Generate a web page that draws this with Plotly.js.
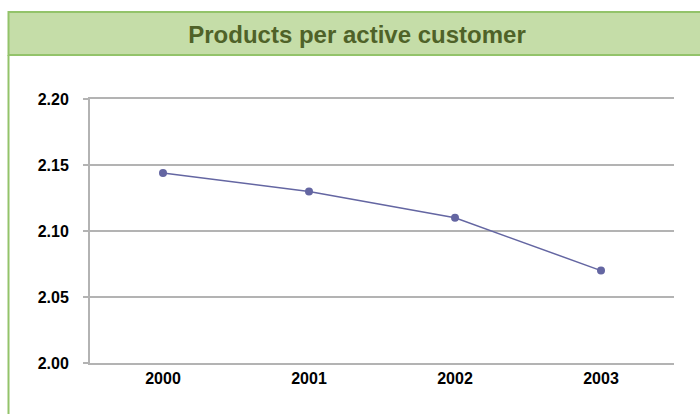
<!DOCTYPE html>
<html>
<head>
<meta charset="utf-8">
<script src="https://cdn.plot.ly/plotly-3.0.1.min.js"></script>
<style>
html,body{margin:0;padding:0;background:#fff;}
#chart{width:700px;height:414px;}
</style>
</head>
<body>
<div id="chart"></div>
<script>
const years = ["2000", "2001", "2002", "2003"];
const productsPerCustomer = [2.144, 2.130, 2.110, 2.070];
const yTicks = [2.00, 2.05, 2.10, 2.15, 2.20];
const yTickLabels = ["2.00", "2.05", "2.10", "2.15", "2.20"];
const chartTitle = "Products per active customer";

const trace = {
  x: years,
  y: productsPerCustomer,
  type: "scatter",
  mode: "lines+markers",
  line: {color: "#6466a2", width: 1.5},
  marker: {color: "#6466a2", size: 8},
  hoverinfo: "x+y"
};

const layout = {
  width: 700,
  height: 414,
  paper_bgcolor: "#ffffff",
  plot_bgcolor: "#ffffff",
  margin: {l: 90, r: 26, t: 99, b: 51},
  showlegend: false,
  title: {
    text: "<b>" + chartTitle + "</b>",
    font: {family: "Liberation Sans, Arial, sans-serif", size: 24, color: "#4f6228"},
    x: 357 / 700, xanchor: "center", xref: "container",
    y: 1 - 35 / 414, yanchor: "middle"
  },
  xaxis: {
    type: "category",
    range: [-0.5, 3.5],
    showgrid: false,
    showline: true,
    mirror: true,
    linecolor: "#b3b3b3",
    linewidth: 2,
    ticks: "",
    tickvals: years,
    ticktext: years.map(y => "<b>" + y + "</b>"),
    tickfont: {family: "Liberation Sans, Arial, sans-serif", size: 16, color: "#000"},
    ticklabelstandoff: 0,
    fixedrange: true
  },
  yaxis: {
    range: [2.00, 2.20],
    tickvals: yTicks,
    ticktext: yTickLabels.map(t => "<b>" + t + "</b>"),
    showgrid: true,
    gridcolor: "#b3b3b3",
    gridwidth: 1.5,
    showline: true,
    linecolor: "#b3b3b3",
    linewidth: 2,
    ticks: "outside",
    ticklen: 5,
    tickcolor: "#b3b3b3",
    tickwidth: 1.5,
    zeroline: false,
    ticklabelstandoff: 11,
    tickfont: {family: "Liberation Sans, Arial, sans-serif", size: 16, color: "#000"},
    fixedrange: true
  },
  shapes: [
    {
      type: "rect", xref: "paper", yref: "paper",
      x0: (8.5 - 90) / 584, x1: (705 - 90) / 584,
      y0: (363 - 55) / 264, y1: (363 - 12) / 264,
      fillcolor: "#c5dda8",
      line: {color: "#93c36a", width: 2},
      layer: "below"
    },
    {
      type: "line", xref: "paper", yref: "paper",
      x0: (8.5 - 90) / 584, x1: (8.5 - 90) / 584,
      y0: (363 - 420) / 264, y1: (363 - 55) / 264,
      line: {color: "#93c36a", width: 2},
      layer: "below"
    }
  ]
};

Plotly.newPlot("chart", [trace], layout, {displayModeBar: false, staticPlot: true});
</script>
</body>
</html>
